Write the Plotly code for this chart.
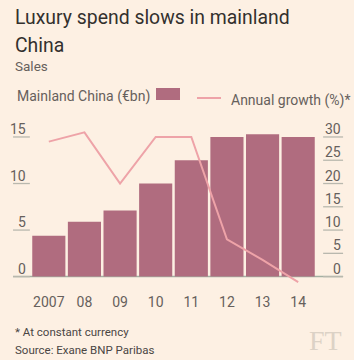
import plotly.graph_objects as go

years = ["2007", "08", "09", "10", "11", "12", "13", "14"]
sales_bn = [4.4, 5.9, 7.1, 10.0, 12.5, 15.0, 15.3, 15.0]
growth_pct = [29.0, 31.0, 20.0, 30.0, 30.0, 8.0, 3.6, -1.2]
left_ticks = [0, 5, 10, 15]
right_ticks = [0, 5, 10, 15, 20, 25, 30]

BG = "#fdf0e3"
BAR = "#b06c7f"
LINE = "#eea3a8"
TXT = "#66605c"
DARK = "#33302e"
FOOT = "#4a4644"
FONT = "Roboto"

fig = go.Figure()
fig.add_trace(go.Bar(x=years, y=sales_bn, marker=dict(color=BAR, line=dict(width=0)),
                     yaxis="y", showlegend=False))
fig.add_trace(go.Scatter(x=years, y=growth_pct, mode="lines", line=dict(color=LINE, width=2),
                         yaxis="y2", showlegend=False, cliponaxis=False))

shapes = []
annotations = []
for v in left_ticks:
    shapes.append(dict(type="line", xref="paper", yref="y", x0=-0.063, x1=-0.004, y0=v, y1=v,
                       line=dict(color="#b9b8ae", width=1.3)))
    annotations.append(dict(text=str(v), xref="paper", yref="y", x=-0.012, y=v,
                            xanchor="right", yanchor="bottom", showarrow=False, yshift=-2,
                            font=dict(family=FONT, size=14, color=TXT)))
for v in right_ticks:
    shapes.append(dict(type="line", xref="paper", yref="y2", x0=1.025, x1=1.095, y0=v, y1=v,
                       line=dict(color="#b9b8ae", width=1.3)))
    annotations.append(dict(text=str(v), xref="paper", yref="y2", x=1.093, y=v,
                            xanchor="right", yanchor="bottom", showarrow=False, yshift=-2,
                            font=dict(family=FONT, size=14, color=TXT)))
# baseline
shapes.append(dict(type="line", xref="paper", yref="y", x0=-0.063, x1=1.095, y0=0, y1=0,
                   line=dict(color="#a3b0a2", width=1.5), layer="below"))

fig.update_layout(
    width=354, height=360,
    margin=dict(l=31, r=38, t=123, b=75, pad=0),
    paper_bgcolor=BG, plot_bgcolor=BG,
    bargap=0.07,
    xaxis=dict(range=[-0.5, 7.5], showgrid=False, zeroline=False, showline=False, ticks="",
               tickfont=dict(family=FONT, size=14, color=TXT), ticklabelstandoff=7),
    yaxis=dict(range=[-0.9, 16.5], showgrid=False, zeroline=False, showline=False,
               showticklabels=False, ticks=""),
    yaxis2=dict(range=[-1.8, 33], overlaying="y", side="right", showgrid=False,
                zeroline=False, showline=False, showticklabels=False, ticks=""),
    shapes=shapes,
)

W, H = 354, 360
L, R, T, B = 31, 38, 123, 75
pw, ph = W - L - R, H - T - B
def px(x):
    return (x - L) / pw
def py(y):
    return (H - B - y) / ph

texts = [
    ("Luxury spend slows in mainland", 13, 26, 19.4, DARK),
    ("China", 13, 54, 19.4, DARK),
    ("Sales", 13, 73, 13.5, TXT),
    ("Mainland China (€bn)", 15, 104, 14, TXT),
    ("Annual growth (%)*", 229, 108, 14, TXT),
    ("* At constant currency", 13, 338, 11.5, FOOT),
    ("Source: Exane BNP Paribas", 13, 356, 11.5, FOOT),
]
for t, x, y, s, c in texts:
    annotations.append(dict(text=t, xref="paper", yref="paper", x=px(x), y=py(y), xanchor="left",
                            yanchor="bottom", yshift=-s * 0.24, showarrow=False,
                            font=dict(family=FONT, size=s, color=c)))
annotations.append(dict(text="FT", xref="paper", yref="paper", x=px(344), y=py(352), xanchor="right",
                        yanchor="bottom", yshift=-6, showarrow=False,
                        font=dict(family="Liberation Serif", size=28, color="#dcd2c6")))
fig.update_layout(annotations=annotations)

fig.add_shape(type="rect", xref="paper", yref="paper", x0=px(156), x1=px(180), y0=py(100), y1=py(88),
              fillcolor=BAR, line=dict(width=0))
fig.add_shape(type="line", xref="paper", yref="paper", x0=px(197), x1=px(221), y0=py(98), y1=py(98),
              line=dict(color=LINE, width=2))

fig.write_html("out.html")
